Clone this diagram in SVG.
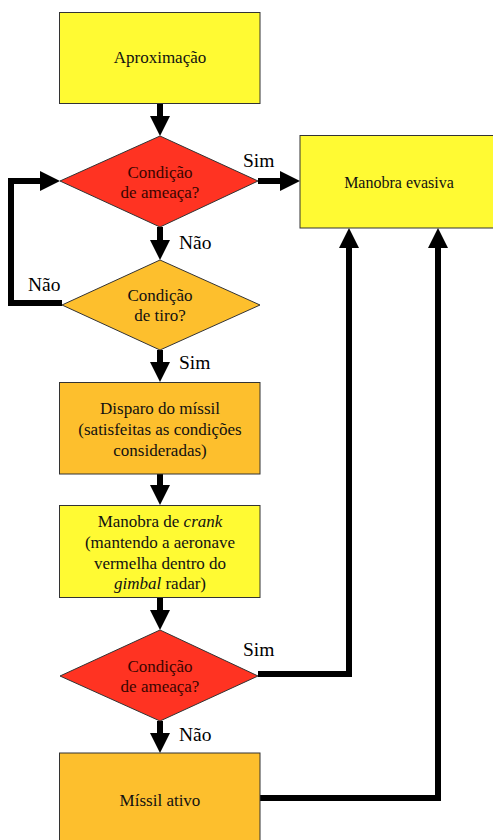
<svg xmlns="http://www.w3.org/2000/svg" width="493" height="840" viewBox="0 0 493 840">
  <style>
    .box { stroke: #333333; stroke-width: 1; }
    .yellow { fill: #FFFA33; }
    .orange { fill: #FDBF2D; }
    .red { fill: #FF3322; }
    text { font-family: "Liberation Serif", "Times New Roman", serif; }
    .t { font-size: 17px; fill: #111111; text-anchor: middle; }
    .tr { fill: #3A0500; }
    .lbl { font-size: 19.5px; fill: #000000; }
    .conn { fill: none; stroke: #000000; stroke-width: 6; stroke-linejoin: miter; marker-end: url(#ah); }
  </style>
  <defs>
    <marker id="ah" markerUnits="userSpaceOnUse" viewBox="0 0 20 20" refX="6" refY="10" markerWidth="20" markerHeight="20" orient="auto">
      <path d="M0,0 L20,10 L0,20 z" fill="#000000"/>
    </marker>
  </defs>
  <rect width="493" height="840" fill="#FFFFFF"/>

  <g id="connectors">
    <path class="conn" d="M160,103.5 L160,122"/>
    <path class="conn" d="M258,181 L286,181"/>
    <path class="conn" d="M160,227 L160,246"/>
    <path class="conn" d="M62,303 L11,303 L11,181 L46,181"/>
    <path class="conn" d="M160,350 L160,368"/>
    <path class="conn" d="M160,474 L160,491"/>
    <path class="conn" d="M160,597 L160,616"/>
    <path class="conn" d="M258,674 L349,674 L349,242"/>
    <path class="conn" d="M160,721 L160,739"/>
    <path class="conn" d="M260,798 L438,798 L438,242"/>
  </g>

  <g id="aproximacao">
    <rect class="box yellow" x="59.5" y="12.5" width="200.5" height="91"/>
    <text class="t" x="160" y="63">Aproximação</text>
  </g>

  <g id="condicao-ameaca-1">
    <polygon class="box red" points="160,136 258,181 160,227 60,181"/>
    <text class="t tr" x="160" y="178">Condição</text>
    <text class="t tr" x="160" y="198">de ameaça?</text>
  </g>

  <g id="manobra-evasiva">
    <rect class="box yellow" x="300" y="135.5" width="200" height="92.5"/>
    <text class="t" x="399" y="188" style="font-size:16px">Manobra evasiva</text>
  </g>

  <g id="condicao-tiro">
    <polygon class="box orange" points="160,260 260,305 160,350 62,305"/>
    <text class="t" x="160" y="301">Condição</text>
    <text class="t" x="160" y="321">de tiro?</text>
  </g>

  <g id="disparo">
    <rect class="box orange" x="59.5" y="382.5" width="200.5" height="91.5"/>
    <text class="t" x="160" y="414">Disparo do míssil</text>
    <text class="t" x="160" y="435">(satisfeitas as condições</text>
    <text class="t" x="160" y="456">consideradas)</text>
  </g>

  <g id="manobra-crank">
    <rect class="box yellow" x="59.5" y="505.5" width="200.5" height="92"/>
    <text class="t" x="160" y="527">Manobra de <tspan font-style="italic">crank</tspan></text>
    <text class="t" x="160" y="548">(mantendo a aeronave</text>
    <text class="t" x="160" y="569">vermelha dentro do</text>
    <text class="t" x="160" y="589"><tspan font-style="italic">gimbal</tspan> radar)</text>
  </g>

  <g id="condicao-ameaca-2">
    <polygon class="box red" points="160,630 258,676 160,721 60,676"/>
    <text class="t tr" x="160" y="672">Condição</text>
    <text class="t tr" x="160" y="692">de ameaça?</text>
  </g>

  <g id="missil-ativo">
    <rect class="box orange" x="59.5" y="753" width="200.5" height="100"/>
    <text class="t" x="160" y="806">Míssil ativo</text>
  </g>

  <g id="labels">
    <text class="lbl" x="243" y="167">Sim</text>
    <text class="lbl" x="179" y="249">Não</text>
    <text class="lbl" x="28" y="291">Não</text>
    <text class="lbl" x="179" y="369">Sim</text>
    <text class="lbl" x="243" y="656">Sim</text>
    <text class="lbl" x="179" y="741">Não</text>
  </g>
</svg>
